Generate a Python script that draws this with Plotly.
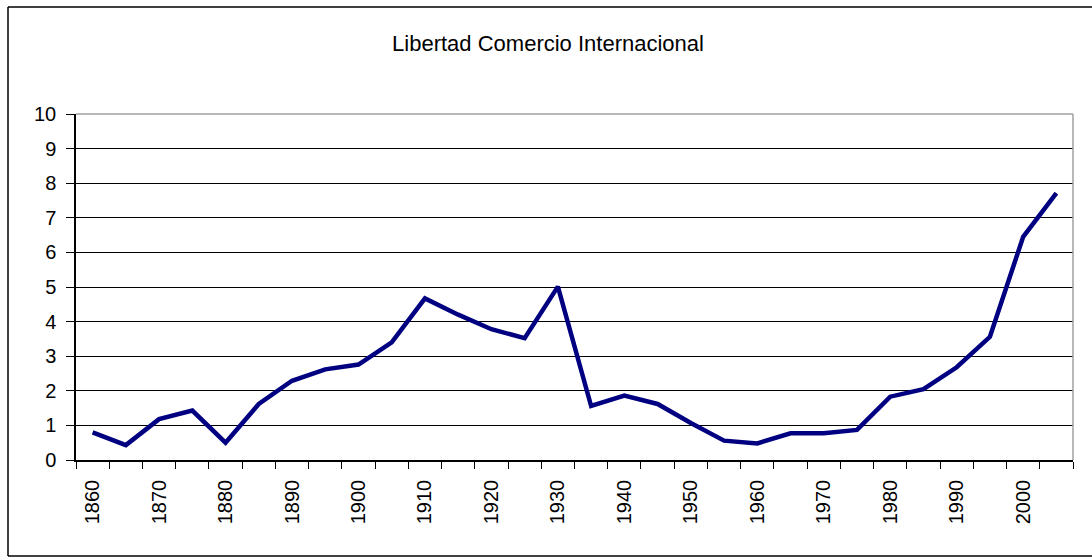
import plotly.graph_objects as go

years = [str(y) for y in range(1860, 2010, 5)]
libertad = [
    0.80, 0.43, 1.18, 1.43, 0.50, 1.62, 2.29, 2.62, 2.76, 3.40,
    4.67, 4.20, 3.78, 3.52, 5.01, 1.56, 1.86, 1.62, 1.07, 0.56,
    0.48, 0.77, 0.77, 0.87, 1.83, 2.05, 2.68, 3.56, 6.45, 7.71,
]

W, H = 1092, 558
L, R, T, B = 76, 1073, 114, 460


def px_to_paper(x0, y0, x1, y1):
    # outer frame drawn in paper coords, measured in pixels
    return dict(
        x0=(x0 - L) / (R - L), x1=(x1 - L) / (R - L),
        y0=(B - y0) / (B - T), y1=(B - y1) / (B - T),
    )


fig = go.Figure()
fig.add_trace(go.Scatter(
    x=years, y=libertad, mode="lines",
    line=dict(color="#000080", width=4.5),
    showlegend=False, hoverinfo="x+y",
))

font = dict(family="Liberation Sans, Arial, sans-serif", size=20, color="#000000")

fig.update_layout(
    width=W, height=H,
    margin=dict(l=L, r=W - R, t=T, b=H - B),
    paper_bgcolor="white", plot_bgcolor="white",
    font=font,
    title=dict(
        text="Libertad Comercio Internacional",
        x=548 / W, xanchor="center", xref="container",
        y=1 - 43 / H, yanchor="middle", yref="container",
        font=dict(family="Liberation Sans, Arial, sans-serif", size=22, color="#000000"),
    ),
    shapes=[
        # outer frame: left, top and bottom only (right edge runs off the image)
        dict(type="line", xref="paper", yref="paper", layer="above",
             line=dict(color="#000000", width=1.5),
             **px_to_paper(8, 7, 8, 556)),
        dict(type="line", xref="paper", yref="paper", layer="above",
             line=dict(color="#000000", width=1.5),
             **px_to_paper(8, 7, W, 7)),
        dict(type="line", xref="paper", yref="paper", layer="above",
             line=dict(color="#000000", width=1.5),
             **px_to_paper(8, 556, W, 556)),
        dict(type="line", xref="paper", yref="paper", layer="above",
             x0=0, x1=1, y0=1, y1=1, line=dict(color="#a0a0a0", width=1.5)),
        dict(type="line", xref="paper", yref="paper", layer="above",
             x0=1, x1=1, y0=0, y1=1, line=dict(color="#a0a0a0", width=1.5)),
    ],
)

fig.update_xaxes(
    type="category", range=[-0.5, len(years) - 0.5],
    tickson="boundaries", ticks="outside", ticklen=7, tickcolor="#000000",
    tickwidth=1, ticklabelstep=2, tickangle=-90,
    showline=True, linecolor="#000000", linewidth=1.5,
    showgrid=False, zeroline=False, ticklabelstandoff=10,
    tickfont=font,
)
fig.update_yaxes(
    range=[0, 10], dtick=1, tick0=0,
    ticks="outside", ticklen=8, tickcolor="#000000", tickwidth=1,
    showline=True, linecolor="#000000", linewidth=1.5,
    showgrid=True, gridcolor="#000000", gridwidth=1,
    zeroline=False, ticklabelstandoff=6,
    tickfont=font,
)

# the page body has an 8px default margin; drop it so the figure sits at 0,0
fig.write_html(
    "out.html",
    config={"displayModeBar": False},
    post_script="document.body.style.margin='0';",
)
